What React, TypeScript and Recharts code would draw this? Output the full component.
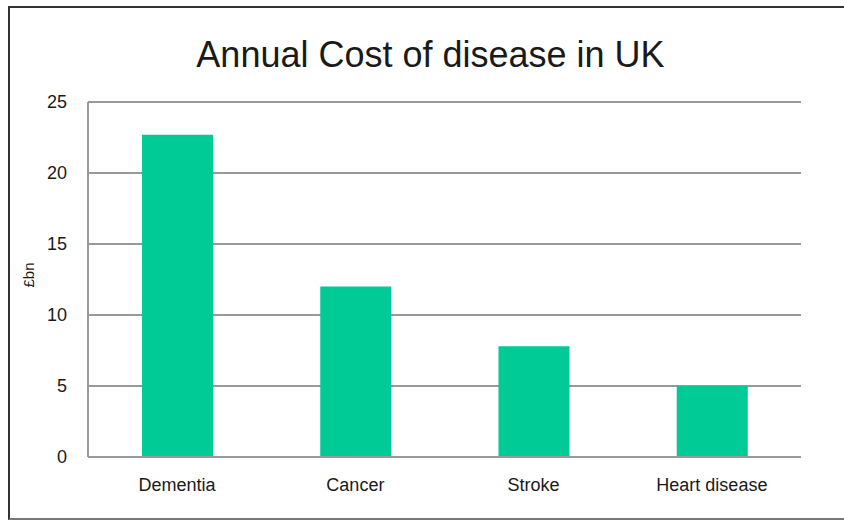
import { Bar, BarChart, CartesianGrid, XAxis, YAxis } from "recharts";

const diseases = ["Dementia", "Cancer", "Stroke", "Heart disease"];
const costs = [22.7, 12.0, 7.8, 5.0];
const yTicks = [0, 5, 10, 15, 20, 25];

const data = diseases.map((name, i) => ({ name, cost: costs[i] }));

const font = "'Liberation Sans', Arial, sans-serif";

function App() {
  return (
    <div
      style={{
        position: "absolute",
        left: 0,
        top: 0,
        width: 844,
        height: 521,
        background: "#fff",
        fontFamily: font,
      }}
    >
      {/* frame: left, top and bottom edges only */}
      <div
        style={{
          position: "absolute",
          left: 8,
          top: 6,
          width: 836,
          height: 514,
          borderLeft: "2px solid #333",
          borderTop: "2px solid #333",
          borderBottom: "2px solid #777",
          boxSizing: "border-box",
        }}
      />
      <div
        style={{
          position: "absolute",
          left: 0,
          top: 37,
          width: 861,
          textAlign: "center",
          fontSize: 36,
          lineHeight: "36px",
          color: "#1a1a1a",
        }}
      >
        Annual Cost of disease in UK
      </div>
      <div
        style={{
          position: "absolute",
          left: 28,
          top: 275,
          transform: "translate(-50%, -50%) rotate(-90deg)",
          fontSize: 15,
          color: "#1a1a1a",
          whiteSpace: "nowrap",
        }}
      >
        £bn
      </div>
      <div style={{ position: "absolute", left: 0, top: 0 }}>
        <BarChart
          width={844}
          height={521}
          data={data}
          margin={{ top: 102, right: 43, bottom: 0, left: 8 }}
          barSize={71}
        >
          <CartesianGrid vertical={false} stroke="#999" strokeWidth={2} />
          <XAxis
            dataKey="name"
            axisLine={{ stroke: "#999", strokeWidth: 2 }}
            tickLine={false}
            tickSize={0}
            tickMargin={21}
            tick={{ fill: "#1a1a1a", fontSize: 18, fontFamily: font }}
            height={64}
          />
          <YAxis
            width={80}
            domain={[0, 25]}
            ticks={yTicks}
            axisLine={{ stroke: "#999", strokeWidth: 2 }}
            tickLine={false}
            tickSize={0}
            tickMargin={21}
            tick={{ fill: "#1a1a1a", fontSize: 18, fontFamily: font }}
          />
          <Bar dataKey="cost" fill="#00CB96" isAnimationActive={false} />
        </BarChart>
      </div>
    </div>
  );
}

export default App;
